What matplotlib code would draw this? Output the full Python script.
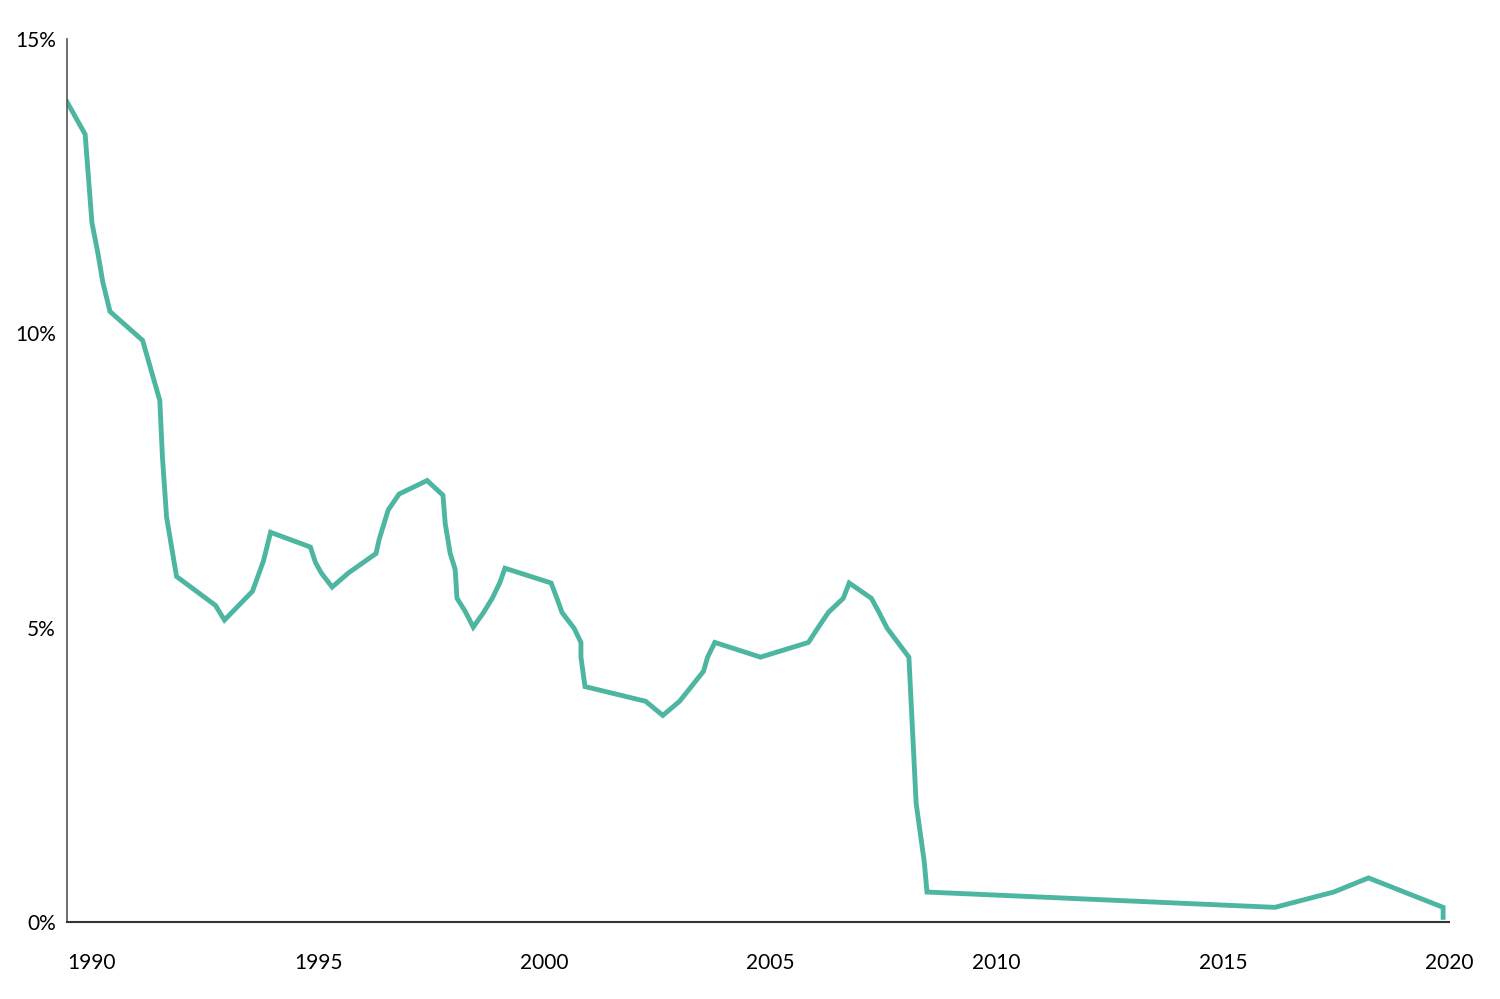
import matplotlib
matplotlib.use("Agg")
import matplotlib.pyplot as plt

years = [1989.45,1989.85,1990.0,1990.13,1990.24,1990.4,1991.12,1991.5,1991.56,1991.65,1991.87,
         1992.73,1992.93,1993.55,1993.79,1993.95,1994.83,1994.94,1995.07,1995.31,1995.67,1996.28,
         1996.35,1996.55,1996.79,1997.41,1997.76,1997.81,1997.92,1998.03,1998.07,1998.25,1998.43,
         1998.65,1998.85,1999.02,1999.13,2000.15,2000.28,2000.39,2000.66,2000.81,2000.81,2000.9,
         2002.24,2002.62,2002.99,2003.52,2003.61,2003.77,2004.78,2005.84,2006.06,2006.28,2006.61,
         2006.74,2007.23,2007.40,2007.58,2008.06,2008.22,2008.40,2008.46,2016.15,2017.45,2018.22,
         2019.87,2019.87]
rates = [13.93,13.38,11.88,11.37,10.87,10.37,9.88,8.86,7.88,6.88,5.87,
         5.38,5.13,5.62,6.13,6.62,6.37,6.11,5.93,5.69,5.93,6.26,
         6.50,7.0,7.27,7.5,7.25,6.77,6.26,5.99,5.50,5.28,5.01,
         5.25,5.50,5.77,6.01,5.76,5.50,5.26,4.99,4.75,4.50,4.0,
         3.75,3.51,3.75,4.26,4.50,4.75,4.50,4.75,5.01,5.26,5.50,
         5.76,5.50,5.26,4.99,4.50,2.02,1.02,0.51,0.25,0.51,0.75,
         0.25,0.08]
xticks = [1990,1995,2000,2005,2010,2015,2020]
yticks = [0,5,10,15]
ylabels = ["0%","5%","10%","15%"]

plt.rcParams['font.family'] = ['Lato', 'DejaVu Sans']
fig = plt.figure(figsize=(15,9.99), dpi=100)
ax = fig.add_axes([0.0447,0.077,0.9213,0.884])
ax.plot(years, rates, color='#4DB6A0', lw=3.5, solid_joinstyle='miter')
ax.set_xlim(1989.45, 2020.0)
ax.set_ylim(0, 15)
for s in ['top','right']:
    ax.spines[s].set_visible(False)
ax.spines['left'].set_color('#555555')
ax.spines['bottom'].set_color('#333333')
ax.spines['left'].set_linewidth(1.2)
ax.spines['bottom'].set_linewidth(1.5)
ax.set_xticks(xticks)
ax.set_xticklabels([str(x) for x in xticks])
ax.set_yticks(yticks)
ax.set_yticklabels(ylabels)
ax.tick_params(axis='x', length=0, pad=22, labelsize=15)
ax.tick_params(axis='y', length=0, pad=8, labelsize=15)
fig.savefig("out.png", dpi=100)
